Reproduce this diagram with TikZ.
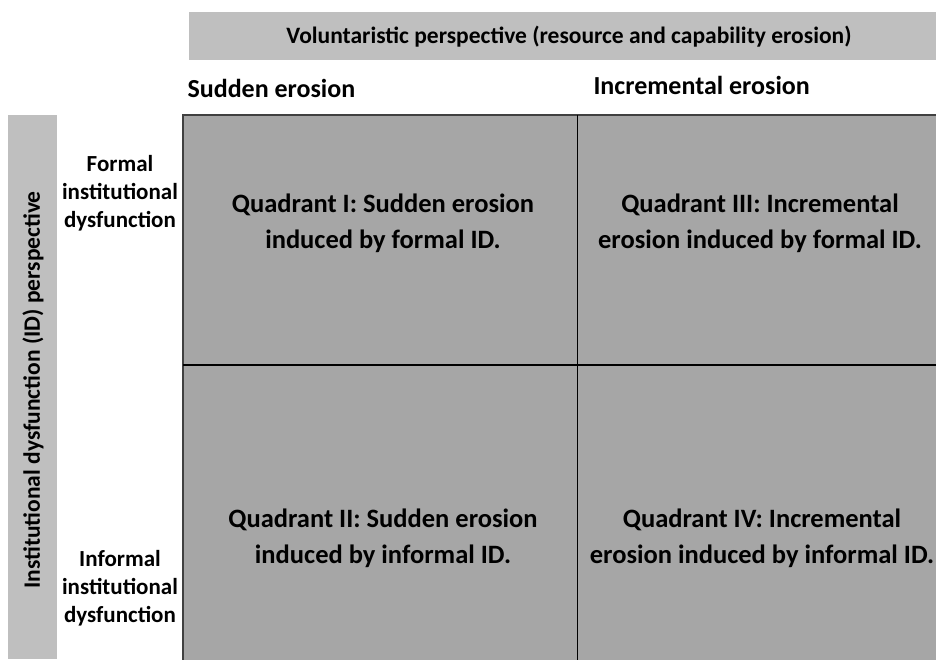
\documentclass[tikz,border=0pt]{standalone}
\usepackage{fontspec}
\setmainfont{Carlito}
\begin{document}
\begin{tikzpicture}[x=1pt,y=-1pt,
  quad/.style={align=center,font=\bfseries\fontsize{26.5}{36}\selectfont},
  side/.style={align=center,font=\bfseries\fontsize{23}{28}\selectfont},
  head/.style={font=\bfseries\fontsize{26}{30}\selectfont},
  banner/.style={font=\bfseries\fontsize{23.5}{28}\selectfont}]
\useasboundingbox (0,0) rectangle (936,659);
% banner
\fill[gray!50] (189,12) rectangle (936,60);
\node[banner] (banner) at (569,37) {Voluntaristic perspective (resource and capability erosion)};
% left bar
\fill[gray!50] (8,115) rectangle (57,659);
\node[banner,rotate=90] (vlabel) at (33,390) {Institutional dysfunction (ID) perspective};
% column headers
\node[head,anchor=west] (sudden) at (184,88) {Sudden erosion};
\node[head,anchor=west] (incr) at (590,85) {Incremental erosion};
% grid
\fill[gray!70] (183,115) rectangle (940,663);
\draw[black!75,line width=1.2pt] (183,663) -- (183,115) -- (940,115);
\draw[black,line width=1.5pt] (183,365) -- (940,365);
\draw[black,line width=1pt] (577,115) -- (577,663);
% row labels
\node[side] (formal) at (120,193) {Formal\\institutional\\dysfunction};
\node[side] (informal) at (120,588) {Informal\\institutional\\dysfunction};
% quadrants
\node[quad] (q1) at (383,223) {Quadrant I: Sudden erosion\\induced by formal ID.};
\node[quad] (q3) at (760,223) {Quadrant III: Incremental\\erosion induced by formal ID.};
\node[quad] (q2) at (383,538) {Quadrant II: Sudden erosion\\induced by informal ID.};
\node[quad] (q4) at (762,538) {Quadrant IV: Incremental\\erosion induced by informal ID.};
\end{tikzpicture}
\end{document}
